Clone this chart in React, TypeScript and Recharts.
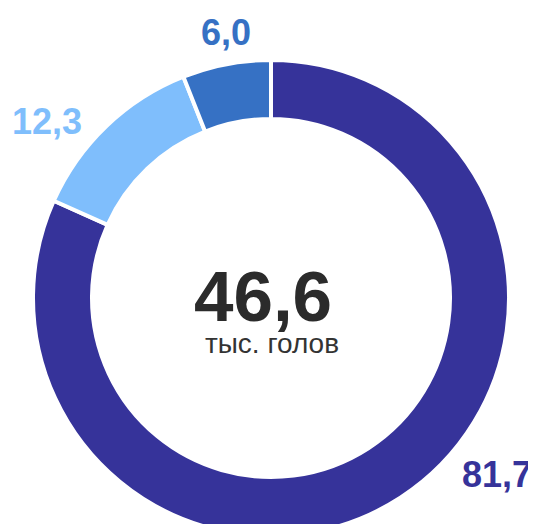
import { PieChart, Pie, Cell } from 'recharts';

// ---------------------------------------------------------------------------
// Data
// ---------------------------------------------------------------------------

const categories = ['Крупный рогатый скот', 'Мелкий рогатый скот', 'Прочие'];
const shares = [81.7, 12.3, 6.0];
const colors = ['#36339A', '#7FBEFC', '#3671C4'];
const totalValue = '46,6';
const totalUnit = 'тыс. голов';

// label offsets from the pie centre (px)
const labelDx = [226, -224, -45];
const labelDy = [176, -177, -266];

const data = categories.map((name, i) => ({ name, value: shares[i] }));

const FONT = '"Liberation Sans", Arial, sans-serif';

function fmt(v: number): string {
  return v.toFixed(1).replace('.', ',');
}

function renderLabel(props: any) {
  const { cx, cy, index, value } = props;
  return (
    <text
      x={cx + labelDx[index]}
      y={cy + labelDy[index]}
      fill={colors[index]}
      textAnchor="middle"
      dominantBaseline="central"
      fontFamily={FONT}
      fontWeight={700}
      fontSize={36}
    >
      {fmt(value)}
    </text>
  );
}

export default function App() {
  const cx = 271;
  const cy = 298;
  return (
    <div style={{ margin: -8, width: 536, height: 532, background: '#fff' }}>
      <PieChart width={536} height={532} margin={{ top: 0, right: 0, bottom: 0, left: 0 }}>
        <Pie
          data={data}
          dataKey="value"
          cx={cx}
          cy={cy}
          innerRadius={179}
          outerRadius={238}
          startAngle={90}
          endAngle={-270}
          stroke="#ffffff"
          strokeWidth={4}
          label={renderLabel}
          labelLine={false}
          isAnimationActive={false}
        >
          {data.map((d, i) => (
            <Cell key={d.name} fill={colors[i]} />
          ))}
        </Pie>
        <text
          x={cx - 8}
          y={cy + 23}
          textAnchor="middle"
          fontFamily={FONT}
          fontWeight={700}
          fontSize={71}
          fill="#2b2b2b"
        >
          {totalValue}
        </text>
        <text
          x={cx + 1}
          y={cy + 55}
          textAnchor="middle"
          fontFamily={FONT}
          fontSize={28}
          fill="#333333"
        >
          {totalUnit}
        </text>
      </PieChart>
    </div>
  );
}
